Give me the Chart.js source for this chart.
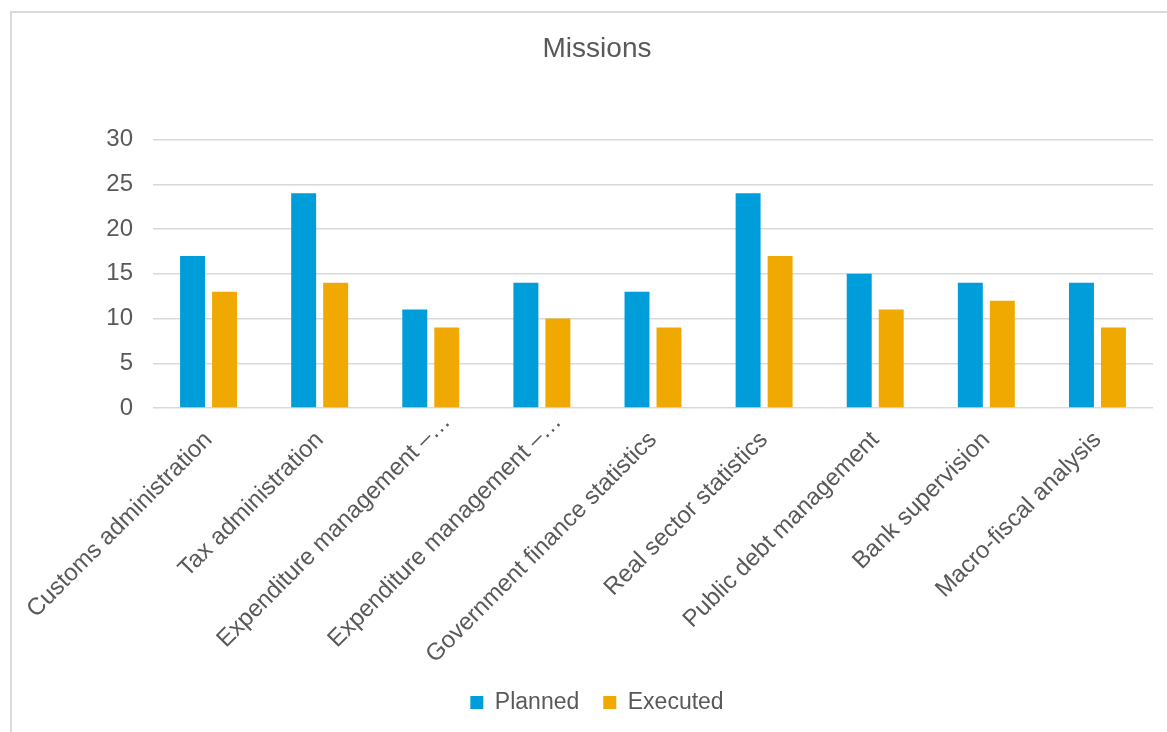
<!DOCTYPE html>
<html>
<head>
<meta charset="utf-8">
<script src="https://cdn.jsdelivr.net/npm/chart.js@4/dist/chart.umd.min.js"></script>
<style>
    html, body { margin: 0; padding: 0; background: #fff; overflow: hidden; }
    .frame {
        position: absolute; left: 10px; top: 11px;
        width: 1200px; height: 800px;
        border: 2px solid #d9d9d9;
    }
    .chart-wrap { position: absolute; left: 0; top: 0; width: 1194px; height: 732px; }
</style>
</head>
<body>
<div class="frame"></div>
<div class="chart-wrap"><canvas id="missionsChart"></canvas></div>
<script>
// Chart data
const categories = [
    'Customs administration',
    'Tax administration',
    'Expenditure management –…',
    'Expenditure management –…',
    'Government finance statistics',
    'Real sector statistics',
    'Public debt management',
    'Bank supervision',
    'Macro-fiscal analysis'
];
const plannedData = [17, 24, 11, 14, 13, 24, 15, 14, 14];
const executedData = [13, 14, 9, 10, 9, 17, 11, 12, 9];
const yTicks = [0, 5, 10, 15, 20, 25, 30];

const textColor = '#595959';
const gridColor = '#d9d9d9';
Chart.defaults.font.family = '"Liberation Sans", Arial, sans-serif';
Chart.defaults.color = textColor;

// truncated labels sit a little further along their slant in the original
const truncatedLabelShift = {
    id: 'truncatedLabelShift',
    beforeDraw(chart) {
        const items = chart.scales.x.getLabelItems();
        items.forEach((item, i) => {
            if (item._shifted || !categories[i].endsWith('…')) return;
            const t = item.options.translation;
            item.options.translation = [t[0] + 16, t[1] - 18];
            item._shifted = true;
        });
    }
};

const ctx = document.getElementById('missionsChart').getContext('2d');

// canvas is wider than the window so title and legend sit centred on the frame;
// an empty right axis keeps the plot ending where the original does
const missionsChart = new Chart(ctx, {
    type: 'bar',
    data: {
        labels: categories,
        datasets: [
            {
                label: 'Planned',
                data: plannedData,
                backgroundColor: '#009ddb',
                categoryPercentage: 0.576,
                barPercentage: 0.78
            },
            {
                label: 'Executed',
                data: executedData,
                backgroundColor: '#f0a900',
                categoryPercentage: 0.576,
                barPercentage: 0.78
            }
        ]
    },
    options: {
        responsive: true,
        maintainAspectRatio: false,
        animation: false,
        layout: {
            padding: { left: 0, right: 0, top: 0, bottom: 8 }
        },
        scales: {
            x: {
                grid: { display: false },
                border: { display: false },
                ticks: {
                    font: { size: 24 },
                    color: textColor,
                    maxRotation: 45,
                    minRotation: 45,
                    autoSkip: false,
                    padding: 10
                },
                afterFit: function(scale) {
                    scale.height = 259;
                    scale.paddingLeft = 0;
                    scale.paddingRight = 0;
                }
            },
            y: {
                min: 0,
                max: 30,
                afterBuildTicks: function(scale) {
                    scale.ticks = yTicks.map(v => ({ value: v }));
                },
                grid: {
                    color: gridColor,
                    lineWidth: 1.5,
                    drawTicks: false
                },
                border: { display: false },
                ticks: {
                    font: { size: 24 },
                    color: textColor,
                    padding: 20
                },
                afterFit: function(scale) {
                    scale.width = 153;
                }
            },
            spacer: {
                type: 'linear',
                position: 'right',
                grid: { display: false },
                border: { display: false },
                ticks: { display: false },
                afterFit: function(scale) {
                    scale.width = 41;
                }
            }
        },
        plugins: {
            title: {
                display: true,
                text: 'Missions',
                color: textColor,
                font: { size: 28, weight: 'normal' },
                padding: { top: 32, bottom: 74 }
            },
            legend: {
                position: 'bottom',
                labels: {
                    boxWidth: 13,
                    boxHeight: 13,
                    padding: 24,
                    color: textColor,
                    font: { size: 23 }
                }
            },
            tooltip: { enabled: false }
        }
    },
    plugins: [truncatedLabelShift]
});
</script>
</body>
</html>
